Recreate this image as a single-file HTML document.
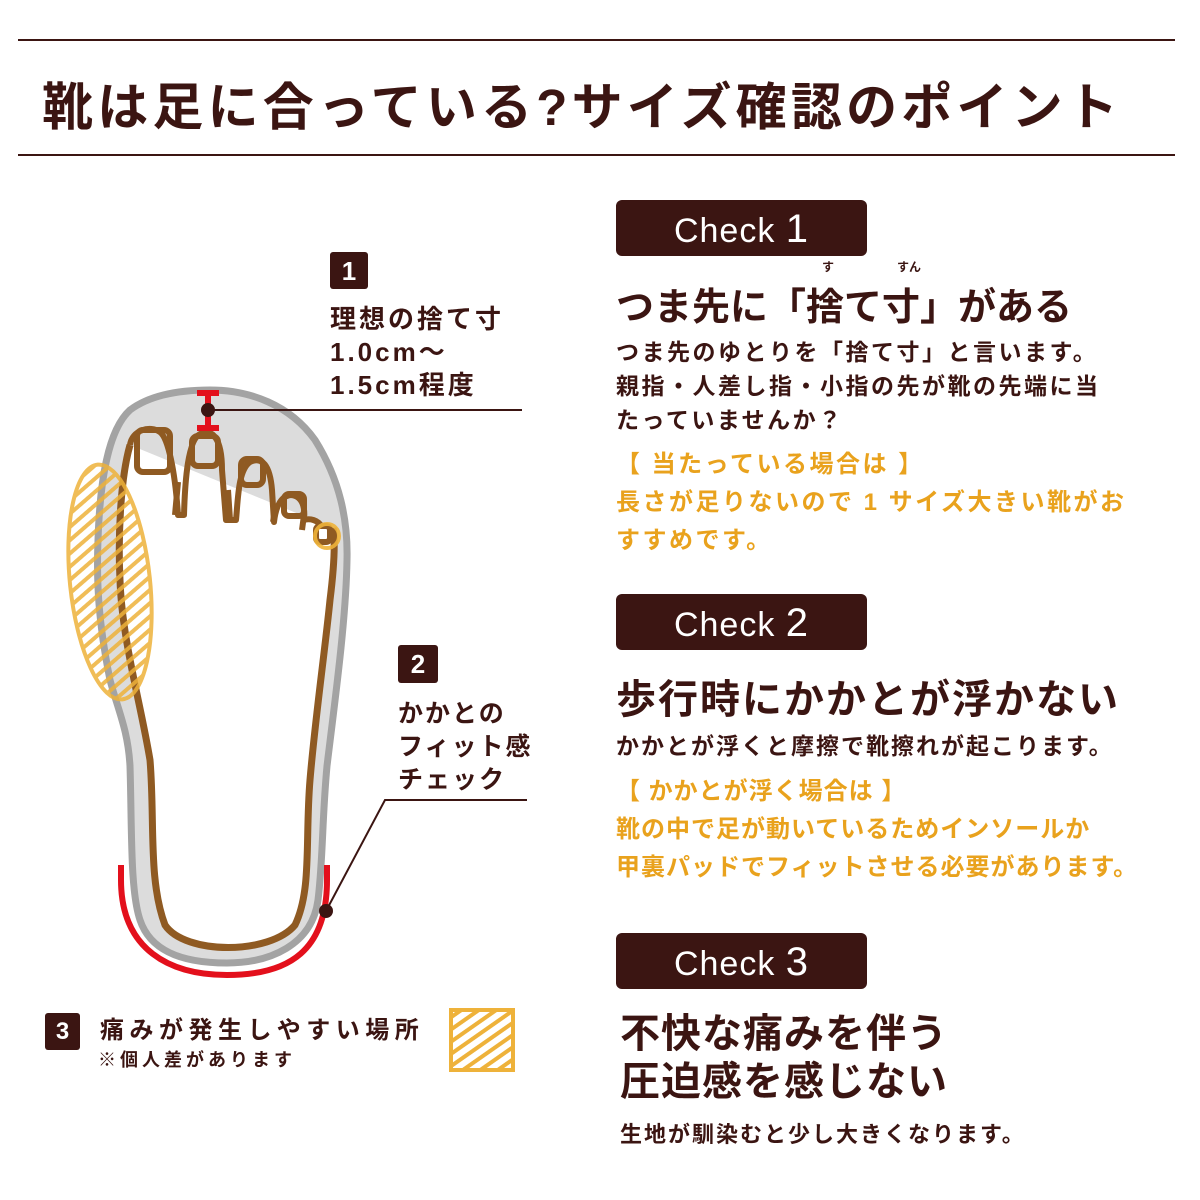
<!DOCTYPE html>
<html><head><meta charset="utf-8"><style>
body{margin:0;background:#fff;}
#w{position:relative;width:1200px;height:1200px;overflow:hidden;font-family:"Liberation Sans","Noto Sans CJK JP",sans-serif;color:#3b1512;}
.t{position:absolute;white-space:nowrap;font-weight:bold;}
.badge{position:absolute;left:616px;width:251px;height:56px;background:#3b1512;border-radius:6px;color:#fff;font-size:34px;text-align:center;line-height:58px;letter-spacing:1px;}
.badge b{font-size:40px;font-weight:normal;}
.o{color:#e9a21d;}
.num{position:absolute;background:#3b1512;color:#fff;font-weight:bold;text-align:center;border-radius:3px;}
</style></head><body><div id="w">
<div style="position:absolute;left:18px;top:39px;width:1157px;height:2px;background:#3b1512"></div>
<div style="position:absolute;left:18px;top:154px;width:1157px;height:2px;background:#3b1512"></div>
<div class="t" style="left:42px;top:66px;font-size:51px;letter-spacing:4.2px">靴は足に合っている?サイズ確認のポイント</div>

<svg width="1200" height="1200" style="position:absolute;left:0;top:0">
<defs><pattern id="h" width="10" height="10" patternUnits="userSpaceOnUse" patternTransform="rotate(-35)"><rect width="10" height="4" fill="#eeb23a"/></pattern></defs>
<path d="M210,390 C250,390 290,405 315,440 C340,480 348,520 347,560 C346,620 335,700 327,766 C322,820 323,860 318,900 C312,945 270,963 227,963 C180,963 150,950 140,920 C130,890 132,830 130,766 C128,730 118,710 110,680 C100,630 96,590 98,540 C100,480 108,430 130,410 C150,395 180,390 210,390 Z" fill="#dcdcdc" stroke="#a3a3a3" stroke-width="7"/>
<path d="M130,445 C120,480 118,540 120,580 C122,640 140,700 150,760 C155,820 148,880 165,925 C185,955 270,955 295,925 C312,890 305,840 310,780 C315,720 325,650 330,600 C335,560 335,540 333,528" fill="#fff" stroke="#8f5a22" stroke-width="7"/>
<g fill="none" stroke="#8f5a22" stroke-width="6" stroke-linejoin="round">
<path d="M130,445 C132,430 150,425 160,432 C168,438 175,470 178,515 L184,515 C185,480 188,440 200,434 C212,428 222,438 222,470 L226,520 L236,520 C238,500 238,470 250,462 C262,456 270,465 272,490 L274,522 C276,505 282,495 292,495 C304,497 305,510 304,520 C310,518 318,520 322,527"/>
<rect x="137" y="430" width="33" height="42" rx="6"/>
<rect x="192" y="436" width="26" height="30" rx="6"/>
<rect x="241" y="459" width="22" height="26" rx="6"/>
<rect x="284" y="494" width="20" height="22" rx="5"/>
<rect x="316" y="526" width="14" height="16" rx="4"/>
<path d="M175,515 L178,482 M230,520 L228,490 M273,522 L276,505 M302,530 L304,515"/>
</g>
<g opacity="0.85"><ellipse cx="110" cy="582" rx="40" ry="118" transform="rotate(-6 110 582)" fill="url(#h)" stroke="#eeb23a" stroke-width="4"/></g>
<circle cx="327" cy="536" r="12" fill="none" stroke="#eeb23a" stroke-width="4" opacity="0.9"/>
<path d="M121,865 L121,880 C121,950 170,975 227,975 C290,975 327,950 327,880 L327,865" fill="none" stroke="#e3101c" stroke-width="6"/>
<path d="M208,393 L208,428 M197,393 L219,393 M197,428 L219,428" stroke="#e3101c" stroke-width="6"/>
<line x1="208" y1="410" x2="522" y2="410" stroke="#3b1512" stroke-width="2"/>
<circle cx="208" cy="410" r="7" fill="#3b1512"/>
<polyline points="326,911 385,800 527,800" fill="none" stroke="#3b1512" stroke-width="2"/>
<circle cx="326" cy="911" r="7" fill="#3b1512"/>
<rect x="451" y="1010" width="62" height="60" fill="url(#h)" stroke="#eeb23a" stroke-width="4"/>
</svg>

<div class="num" style="left:330px;top:252px;width:38px;height:37px;font-size:26px;line-height:38px">1</div>
<div class="t" style="left:330px;top:303px;font-size:26px;line-height:33px;letter-spacing:3px">理想の捨て寸<br>1.0cm～<br>1.5cm程度</div>
<div class="num" style="left:398px;top:645px;width:40px;height:38px;font-size:26px;line-height:39px">2</div>
<div class="t" style="left:398px;top:698px;font-size:25px;line-height:33px;letter-spacing:2px">かかとの<br>フィット感<br>チェック</div>
<div class="num" style="left:45px;top:1013px;width:35px;height:37px;font-size:24px;line-height:38px">3</div>
<div class="t" style="left:100px;top:1010px;font-size:24px;letter-spacing:5.5px">痛みが発生しやすい場所</div>
<div class="t" style="left:98px;top:1046px;font-size:18px;letter-spacing:4px">※個人差があります</div>

<div class="badge" style="top:200px">Check <b>1</b></div>
<div class="t" style="left:822px;top:258px;font-size:12px">す</div>
<div class="t" style="left:897px;top:258px;font-size:12px">すん</div>
<div class="t" style="left:616px;top:276px;font-size:38px">つま先に「捨て寸」がある</div>
<div class="t" style="left:616px;top:335px;font-size:23px;line-height:34px;letter-spacing:2.5px">つま先のゆとりを「捨て寸」と言います。<br>親指・人差し指・小指の先が靴の先端に当<br>たっていませんか？</div>
<div class="t o" style="left:616px;top:446px;font-size:24px;line-height:38px;letter-spacing:2.5px">【 当たっている場合は 】<br>長さが足りないので 1 サイズ大きい靴がお<br>すすめです。</div>

<div class="badge" style="top:594px">Check <b>2</b></div>
<div class="t" style="left:616px;top:667px;font-size:40px;letter-spacing:2px">歩行時にかかとが浮かない</div>
<div class="t" style="left:616px;top:727px;font-size:23px;letter-spacing:2px">かかとが浮くと摩擦で靴擦れが起こります。</div>
<div class="t o" style="left:616px;top:773px;font-size:24px;line-height:38px;letter-spacing:1px">【 かかとが浮く場合は 】<br>靴の中で足が動いているためインソールか<br>甲裏パッドでフィットさせる必要があります。</div>

<div class="badge" style="top:933px">Check <b>3</b></div>
<div class="t" style="left:620px;top:1010px;font-size:40px;line-height:48px;letter-spacing:1px">不快な痛みを伴う<br>圧迫感を感じない</div>
<div class="t" style="left:620px;top:1117px;font-size:22px;letter-spacing:2px">生地が馴染むと少し大きくなります。</div>
</div></body></html>
